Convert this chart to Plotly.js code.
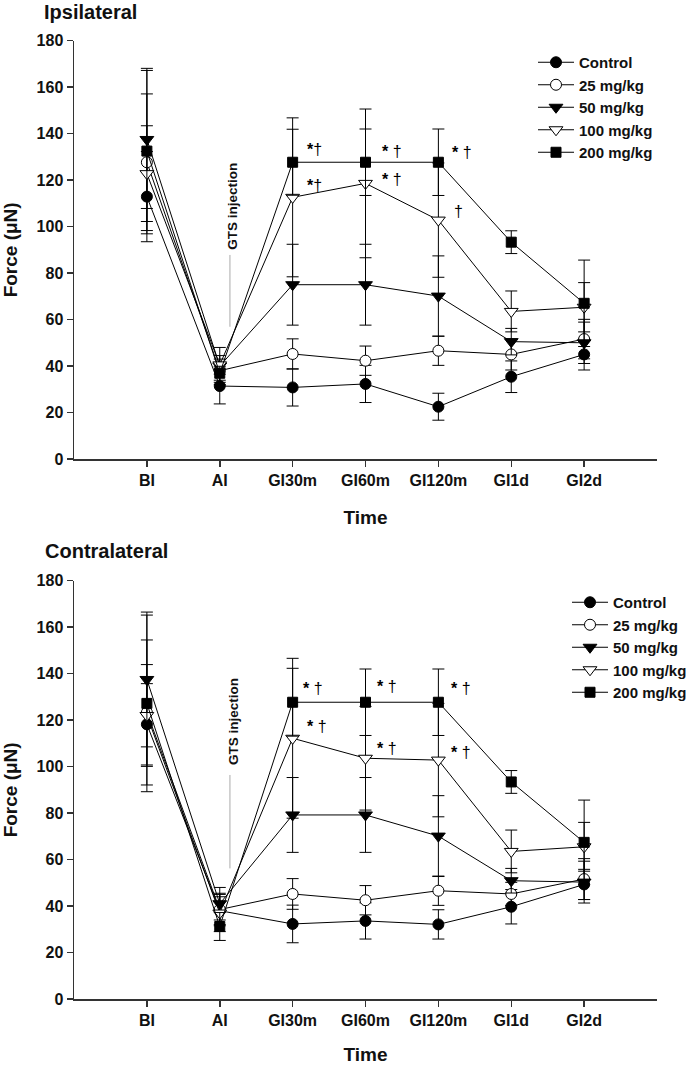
<!DOCTYPE html>
<html>
<head>
<meta charset="utf-8">
<script src="https://cdn.plot.ly/plotly-3.0.1.min.js"></script>
<style>html,body{margin:0;padding:0;background:#fff;}#chart{width:693px;height:1065px;}</style>
</head>
<body>
<div id="chart"></div>
<script>
// ---- data ----
const categories = ['BI', 'AI', 'GI30m', 'GI60m', 'GI120m', 'GI1d', 'GI2d'];
const seriesNames = ['Control', '25 mg/kg', '50 mg/kg', '100 mg/kg', '200 mg/kg'];
const yTicks = [0, 20, 40, 60, 80, 100, 120, 140, 160, 180];

// Ipsilateral (means, SEM)
const ipsiControl    = [112.9, 31.4, 30.8, 32.3, 22.5, 35.4, 45.0];
const ipsiControlErr = [19.4, 7.7, 8.0, 8.0, 5.8, 6.8, 6.7];
const ipsi25         = [127.7, 38.0, 45.2, 42.3, 46.6, 45.0, 51.6];
const ipsi25Err      = [29.4, 5.0, 6.5, 6.3, 6.3, 6.7, 8.5];
const ipsi50         = [137.5, 40.0, 75.0, 75.0, 70.1, 50.5, 50.0];
const ipsi50Err      = [29.7, 8.0, 17.4, 17.4, 17.3, 5.7, 8.9];
const ipsi100        = [122.8, 40.5, 112.6, 118.6, 102.8, 63.5, 65.3];
const ipsi100Err     = [20.6, 4.0, 34.2, 32.0, 24.6, 8.8, 10.6];
const ipsi200        = [132.5, 36.9, 127.7, 127.7, 127.7, 93.3, 67.0];
const ipsi200Err     = [35.6, 3.0, 14.2, 14.3, 14.3, 4.9, 18.6];

// Contralateral (means, SEM)
const contraControl    = [118.2, 38.0, 32.3, 33.6, 32.1, 39.7, 49.3];
const contraControlErr = [17.5, 6.0, 8.1, 7.8, 6.3, 7.4, 6.5];
const contra25         = [123.3, 38.5, 45.2, 42.5, 46.6, 45.2, 51.6];
const contra25Err      = [31.2, 7.0, 6.6, 6.3, 6.3, 5.0, 8.8];
const contra50         = [137.5, 41.0, 79.2, 79.2, 70.1, 50.9, 50.3];
const contra50Err      = [29.0, 7.0, 16.1, 16.1, 17.4, 5.3, 9.0];
const contra100        = [122.0, 37.0, 112.2, 103.6, 102.8, 63.5, 65.5];
const contra100Err     = [21.9, 8.0, 34.4, 22.3, 24.4, 9.2, 10.5];
const contra200        = [127.2, 31.2, 127.7, 127.7, 127.7, 93.4, 67.4];
const contra200Err     = [38.0, 6.0, 14.6, 14.3, 14.3, 4.9, 18.2];

// ---- styling ----
const FONT = 'Liberation Sans, Arial, sans-serif';
const markerStyles = [
  {symbol: 'circle', size: 11, color: '#000', line: {color: '#000', width: 1}},
  {symbol: 'circle', size: 11, color: '#fff', line: {color: '#000', width: 1}},
  {symbol: 'triangle-down', size: 12, color: '#000', line: {color: '#000', width: 1}},
  {symbol: 'triangle-down', size: 12, color: '#fff', line: {color: '#000', width: 1}},
  {symbol: 'square', size: 10, color: '#000', line: {color: '#000', width: 1}}
];

const ipsiMeans = [ipsiControl, ipsi25, ipsi50, ipsi100, ipsi200];
const ipsiErrs = [ipsiControlErr, ipsi25Err, ipsi50Err, ipsi100Err, ipsi200Err];
const contraMeans = [contraControl, contra25, contra50, contra100, contra200];
const contraErrs = [contraControlErr, contra25Err, contra50Err, contra100Err, contra200Err];

function makeTraces(means, errs, xa, ya, legendId) {
  return means.map((m, i) => ({
    type: 'scatter', mode: 'lines+markers',
    x: categories, y: m, name: seriesNames[i],
    xaxis: xa, yaxis: ya, legend: legendId,
    line: {color: '#000', width: 1},
    marker: markerStyles[i],
    error_y: {type: 'data', array: errs[i], visible: true, color: '#000', thickness: 1, width: 6},
    cliponaxis: false
  }));
}

const data = [].concat(
  makeTraces(ipsiMeans, ipsiErrs, 'x', 'y', 'legend'),
  makeTraces(contraMeans, contraErrs, 'x2', 'y2', 'legend2')
);

const xDomain = [74 / 693, 657 / 693];
const topDom = [(1065 - 459) / 1065, (1065 - 40.7) / 1065];
const botDom = [(1065 - 999) / 1065, (1065 - 580.7) / 1065];

function xAxis(anchor) {
  return {
    domain: xDomain, anchor: anchor, type: 'category',
    categoryorder: 'array', categoryarray: categories,
    range: [-1, 7], showline: true, linecolor: '#333', linewidth: 1.5,
    ticks: 'outside', ticklen: 6, tickcolor: '#333', tickwidth: 1.5,
    showgrid: false, zeroline: false,
    tickfont: {family: FONT, size: 16, color: '#111', weight: 'bold'},
    title: {text: 'Time', font: {family: FONT, size: 19, color: '#111', weight: 'bold'}, standoff: 23}
  };
}
function yAxis(anchor, dom) {
  return {
    domain: dom, anchor: anchor, range: [0, 180], tickvals: yTicks,
    showline: true, linecolor: '#333', linewidth: 1.5,
    ticks: 'outside', ticklen: 6, tickcolor: '#333', tickwidth: 1.5,
    showgrid: false, zeroline: false,
    tickfont: {family: FONT, size: 16, color: '#111', weight: 'bold'},
    title: {text: 'Force (μN)', font: {family: FONT, size: 19, color: '#111', weight: 'bold'}, standoff: 16}
  };
}

function sig(text, x, y, xref, yref) {
  return {text: text, x: x, y: y, xref: xref, yref: yref, xanchor: 'left', yanchor: 'middle',
    showarrow: false, font: {family: FONT, size: 16, color: '#000'}};
}

const annotations = [
  {text: '<b>Ipsilateral</b>', xref: 'paper', yref: 'paper', x: 42 / 693, y: 1 - 25 / 1065,
   xanchor: 'left', yanchor: 'bottom', showarrow: false, font: {family: FONT, size: 20, color: '#111'}},
  {text: '<b>Contralateral</b>', xref: 'paper', yref: 'paper', x: 43 / 693, y: 1 - 564 / 1065,
   xanchor: 'left', yanchor: 'bottom', showarrow: false, font: {family: FONT, size: 20, color: '#111'}},
  {text: '<b>GTS injection</b>', x: 1.18, y: 108.9, xref: 'x', yref: 'y', textangle: -90,
   showarrow: false, font: {family: FONT, size: 13.5, color: '#111'}},
  {text: '<b>GTS injection</b>', x: 1.18, y: 119.6, xref: 'x2', yref: 'y2', textangle: -90,
   showarrow: false, font: {family: FONT, size: 13.5, color: '#111'}},
  sig('<b>*</b>†', 2.17, 133.0, 'x', 'y'),
  sig('<b>*</b>†', 2.17, 117.9, 'x', 'y'),
  sig('<b>*</b> †', 3.2, 132.2, 'x', 'y'),
  sig('<b>*</b> †', 3.2, 120.1, 'x', 'y'),
  sig('<b>*</b> †', 4.16, 131.7, 'x', 'y'),
  sig('†', 4.19, 106.4, 'x', 'y'),
  sig('<b>*</b> †', 2.12, 133.8, 'x2', 'y2'),
  sig('<b>*</b> †', 2.17, 117.2, 'x2', 'y2'),
  sig('<b>*</b> †', 3.13, 134.4, 'x2', 'y2'),
  sig('<b>*</b> †', 3.13, 108.0, 'x2', 'y2'),
  sig('<b>*</b> †', 4.15, 133.8, 'x2', 'y2'),
  sig('<b>*</b> †', 4.15, 105.9, 'x2', 'y2')
];

const shapes = [
  {type: 'line', xref: 'x', yref: 'y', x0: 1.14, x1: 1.14, y0: 56.9, y1: 87.8, line: {color: '#aaa', width: 1}},
  {type: 'line', xref: 'x2', yref: 'y2', x0: 1.14, x1: 1.14, y0: 56.2, y1: 96.4, line: {color: '#aaa', width: 1}}
];

const legendBase = {
  xanchor: 'left', yanchor: 'top', bgcolor: 'rgba(0,0,0,0)', borderwidth: 0,
  font: {family: FONT, size: 15, color: '#111', weight: 'bold'}, tracegroupgap: 0,
  itemwidth: 36
};

const layout = {
  width: 693, height: 1065,
  margin: {l: 0, r: 0, t: 0, b: 0},
  paper_bgcolor: '#fff', plot_bgcolor: '#fff',
  showlegend: true,
  legend: Object.assign({}, legendBase, {x: 533 / 693, y: 1 - 46 / 1065}),
  legend2: Object.assign({}, legendBase, {x: 567 / 693, y: 1 - 586 / 1065}),
  xaxis: xAxis('y'), yaxis: yAxis('x', topDom),
  xaxis2: xAxis('y2'), yaxis2: yAxis('x2', botDom),
  annotations: annotations, shapes: shapes
};

Plotly.newPlot('chart', data, layout, {displayModeBar: false, staticPlot: true});
</script>
</body>
</html>
